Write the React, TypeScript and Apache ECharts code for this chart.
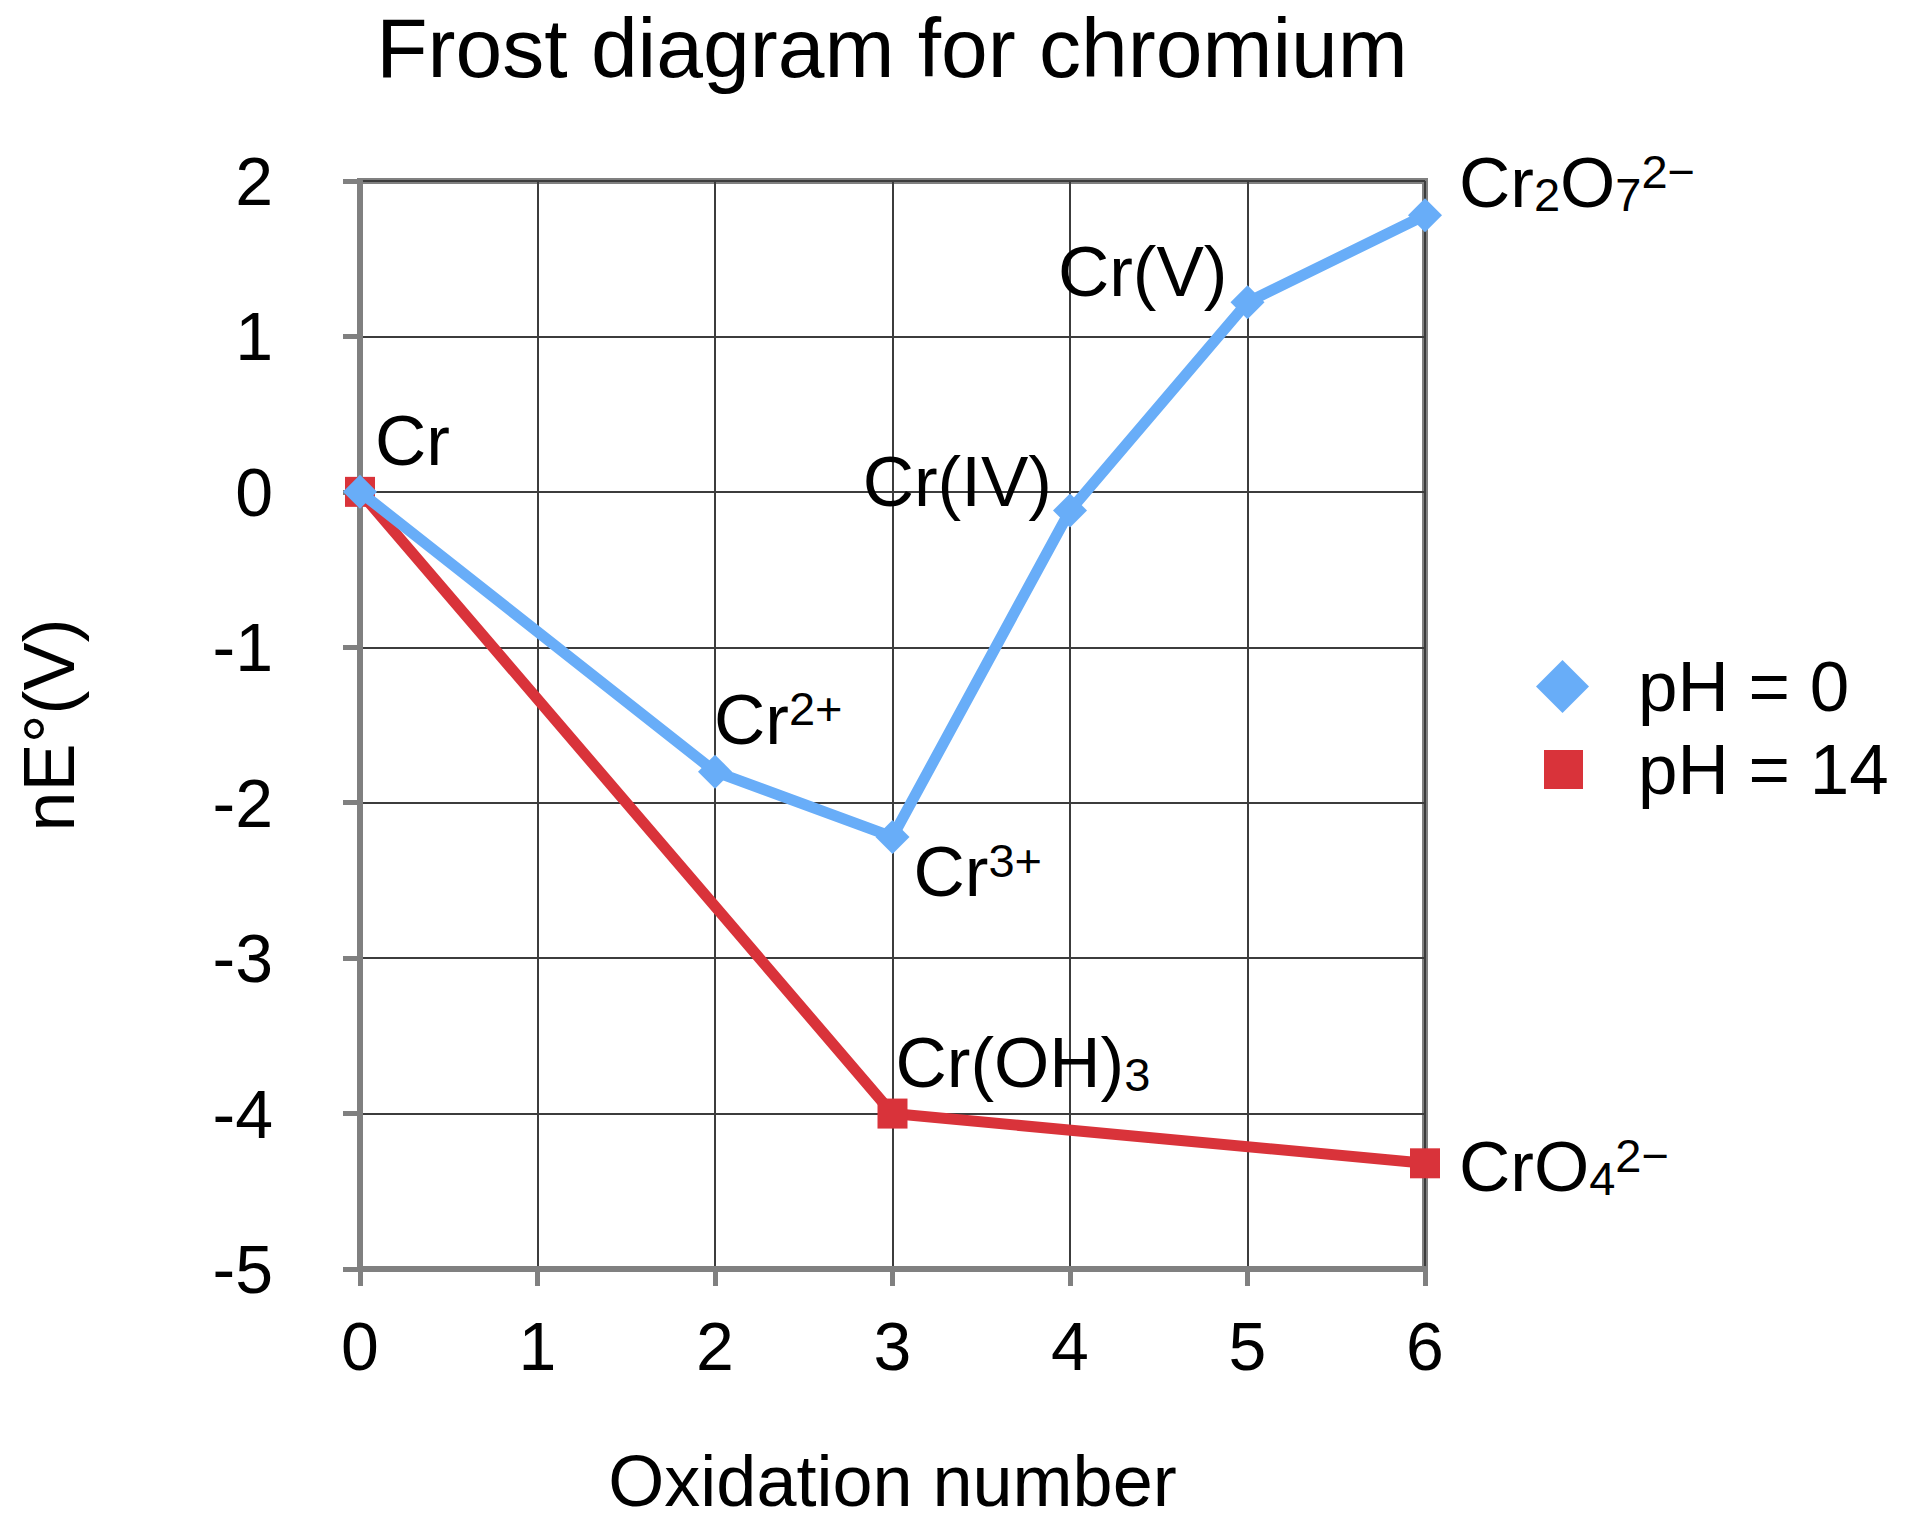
import React, { useEffect, useRef } from "react";
import * as echarts from "echarts";

// ---- data ----
const titleText = "Frost diagram for chromium";
const xAxisName = "Oxidation number";
const yAxisName = "nE°(V)";
const seriesNames = ["pH = 0", "pH = 14"];

const oxAcid = [0, 2, 3, 4, 5, 6];
const nEAcid = [0, -1.8, -2.22, -0.12, 1.22, 1.78];
const speciesAcid = ["{m|Cr}", "{m|Cr}{sup|2+}", "{m|Cr}{sup|3+}", "{m|Cr(IV)}", "{m|Cr(V)}", "{m|Cr}{sub|2}{m|O}{sub|7}{sup|2−}"];

const oxBase = [0, 3, 6];
const nEBase = [0, -4.0, -4.32];
const speciesBase = ["", "{m|Cr(OH)}{sub|3}", "{m|CrO}{sub|4}{sup|2−}"];

// label placement (style, not data): [align, dx, dy]
const placeAcid: [string, number, number][] = [
  ["left", 15, -51],
  ["left", -1, -52],
  ["left", 21, 35],
  ["right", -18, -29],
  ["right", -20, -31],
  ["left", 34, -33],
];
const placeBase: [string, number, number][] = [
  ["left", 0, 0],
  ["left", 3, -51],
  ["left", 34, 3],
];

const BLUE = "#68adf8";
const RED = "#d9333a";
const FONT = "Liberation Sans, Arial, Helvetica, sans-serif";

const rich = {
  m: { fontSize: 71, lineHeight: 71, fontFamily: FONT, color: "#000" },
  sub: { fontSize: 47, lineHeight: 47, padding: [24, 0, 0, 0], fontFamily: FONT, color: "#000" },
  sup: { fontSize: 47, lineHeight: 47, padding: [0, 0, 22, 0], fontFamily: FONT, color: "#000" },
};

function buildData(xs: number[], ys: number[], labels: string[], place: [string, number, number][]) {
  return xs.map((x, i) => ({
    value: [x, ys[i]],
    label: labels[i]
      ? {
          show: true,
          position: "inside",
          align: place[i][0],
          verticalAlign: "middle",
          offset: [place[i][1], place[i][2]],
          formatter: labels[i],
          rich,
        }
      : { show: false },
  }));
}

export default function App() {
  const ref = useRef<HTMLDivElement>(null);
  useEffect(() => {
    if (!ref.current) return;
    const chart = echarts.init(ref.current, undefined, { renderer: "svg" });
    const axisGray = "#808080";
    const gridDark = "#3c3c3c";
    chart.setOption({
      animation: false,
      backgroundColor: "#ffffff",
      title: {
        text: titleText,
        left: 892,
        top: 6,
        padding: 0,
        textAlign: "center",
        textStyle: { fontSize: 84, lineHeight: 84, fontWeight: "normal", color: "#000", fontFamily: FONT },
      },
      legend: [
        {
          data: [{ name: seriesNames[0], icon: "diamond" }],
          orient: "vertical",
          left: 1536,
          top: 651,
          padding: 0,
          itemWidth: 53,
          itemHeight: 53,
          selectedMode: false,
          textStyle: { fontSize: 71, lineHeight: 71, color: "#000", fontFamily: FONT, padding: [0, 0, 0, 44] },
        },
        {
          data: [{ name: seriesNames[1], icon: "rect" }],
          orient: "vertical",
          left: 1544,
          top: 734,
          padding: 0,
          itemWidth: 39,
          itemHeight: 39,
          selectedMode: false,
          textStyle: { fontSize: 71, lineHeight: 71, color: "#000", fontFamily: FONT, padding: [0, 0, 0, 50] },
        },
      ],
      grid: {
        left: 360,
        width: 1065,
        top: 181,
        height: 1095,
        show: true,
        borderColor: axisGray,
        borderWidth: 6,
        backgroundColor: "transparent",
      },
      xAxis: {
        type: "value",
        min: 0,
        max: 6,
        interval: 1,
        name: xAxisName,
        nameLocation: "middle",
        nameGap: 176,
        nameTextStyle: { fontSize: 72, lineHeight: 72, color: "#000", fontFamily: FONT },
        axisLine: { show: true, onZero: false, lineStyle: { color: axisGray, width: 6 } },
        axisTick: { show: true, length: 17, lineStyle: { color: axisGray, width: 5 } },
        axisLabel: { fontSize: 68, lineHeight: 68, margin: 43, color: "#000", fontFamily: FONT },
        splitLine: { show: true, lineStyle: { color: gridDark, width: 2 } },
      },
      yAxis: {
        type: "value",
        min: -5,
        max: 2,
        interval: 1,
        name: yAxisName,
        nameLocation: "middle",
        nameGap: 275,
        nameRotate: 90,
        nameTextStyle: { fontSize: 72, lineHeight: 72, color: "#000", fontFamily: FONT },
        axisLine: { show: true, onZero: false, lineStyle: { color: axisGray, width: 6 } },
        axisTick: { show: true, length: 17, lineStyle: { color: axisGray, width: 5 } },
        axisLabel: { fontSize: 68, lineHeight: 68, margin: 87, color: "#000", fontFamily: FONT },
        splitLine: { show: true, lineStyle: { color: gridDark, width: 2 } },
      },
      series: [
        {
          name: seriesNames[1],
          type: "line",
          symbol: "rect",
          symbolSize: 30,
          itemStyle: { color: RED },
          lineStyle: { color: RED, width: 11 },
          data: buildData(oxBase, nEBase, speciesBase, placeBase),
          z: 2,
        },
        {
          name: seriesNames[0],
          type: "line",
          symbol: "diamond",
          symbolSize: 34,
          itemStyle: { color: BLUE },
          lineStyle: { color: BLUE, width: 11 },
          data: buildData(oxAcid, nEAcid, speciesAcid, placeAcid),
          z: 3,
        },
      ],
    });
    return () => chart.dispose();
  }, []);
  return <div ref={ref} style={{ position: "absolute", left: 0, top: 0, width: 1930, height: 1522 }} />;
}
